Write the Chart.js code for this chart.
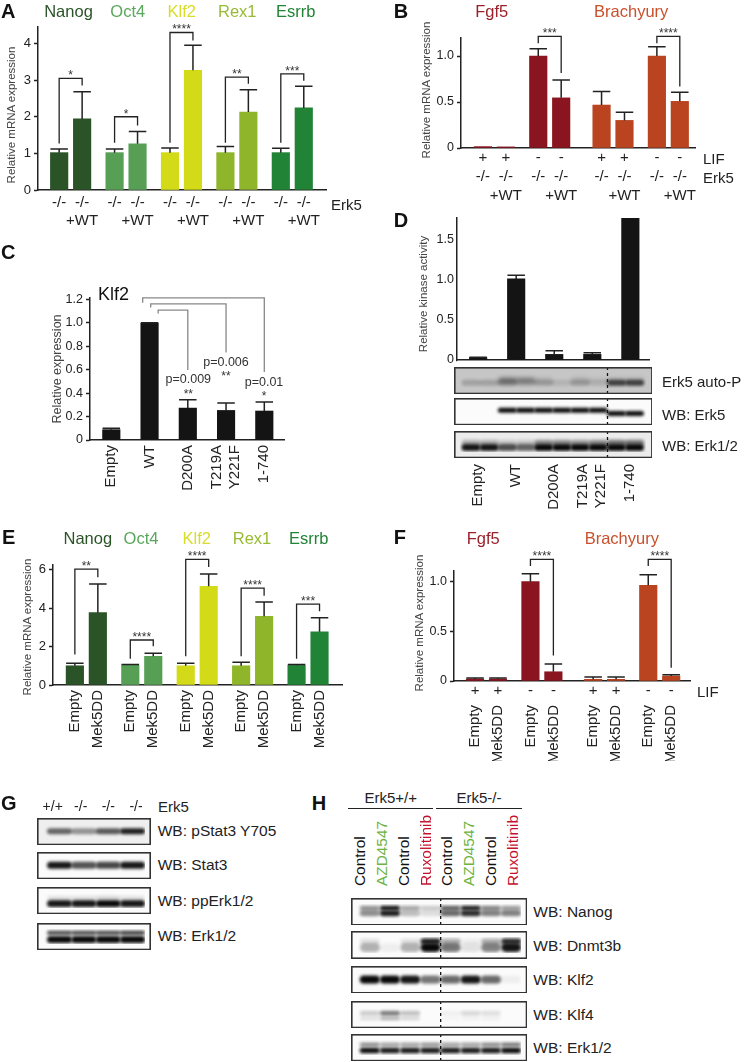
<!DOCTYPE html>
<html>
<head>
<meta charset="utf-8">
<title>Erk5 figure</title>
<script src="https://cdn.jsdelivr.net/npm/chart.js@4"></script>
<style>
  html, body { margin: 0; padding: 0; background: #fff; }
  #page { position: relative; width: 744px; height: 1062px; overflow: hidden; font-family: "Liberation Sans", Arial, sans-serif; color: #222; }
  #page canvas { position: absolute; }
  .txt { position: absolute; white-space: nowrap; line-height: 1; z-index: 5; }
  .rule { position: absolute; background: #222; z-index: 5; }
</style>
</head>
<body>
<div id="page"></div>
<script>
// colours
const nanogGreen = '#2a5427', oct4Green = '#579f55', klf2Yellow = '#d3da17', rex1Green = '#8fb52a', esrrbGreen = '#218336';
const fgfRed = '#8a141f', brachyOrange = '#b9441f';

/* ===== A ===== */
const genesA = ['Nanog', 'Oct4', 'Klf2', 'Rex1', 'Esrrb'];
const ticksA = [0, 1, 2, 3, 4];
const tickLabelsA = ['0', '1', '2', '3', '4'];
const valuesA = [1.02, 1.94, 1.02, 1.26, 1.02, 3.27, 1.02, 2.13, 1.02, 2.24];
const errorsA = [1.12, 2.68, 1.12, 1.60, 1.15, 3.95, 1.19, 2.74, 1.14, 2.83];
const labelsA = [['-/-', ''], ['-/-', '+WT'], ['-/-', ''], ['-/-', '+WT'], ['-/-', ''], ['-/-', '+WT'], ['-/-', ''], ['-/-', '+WT'], ['-/-', ''], ['-/-', '+WT']];
const bracketTopA = [3.05, 2.00, 4.30, 3.08, 3.17];
const bracketLeftA = [1.27, 1.29, 1.29, 1.29, 1.29];
const bracketRightA = [2.85, 1.76, 4.08, 2.90, 2.98];
const starsA = ['*', '*', '****', '**', '***'];

/* ===== B ===== */
const ticksB = [0, 0.5, 1];
const tickLabelsB = ['0', '0.5', '1.0'];
const valuesB = [0.015, 0.012, 1.0, 0.545, 0.467, 0.30, 1.0, 0.507];
const errorsB = [0.015, 0.012, 1.08, 0.74, 0.615, 0.39, 1.10, 0.605];
const labelsB = [['+', '-/-', ''], ['+', '-/-', '+WT'], ['-', '-/-', ''], ['-', '-/-', '+WT'], ['+', '-/-', ''], ['+', '-/-', '+WT'], ['-', '-/-', ''], ['-', '-/-', '+WT']];
const bracketTopB = [1.214, 1.214];
const bracketLeftB = [1.14, 1.14];
const bracketRightB = [0.815, 0.67];
const starsB = ['***', '****'];

/* ===== C ===== */
const ticksC = [0, 0.2, 0.4, 0.6, 0.8, 1.0, 1.2];
const tickLabelsC = ['0', '0.2', '0.4', '0.6', '0.8', '1.0', '1.2'];
const categoriesC = ['Empty', 'WT', 'D200A', 'T219A', 'Y221F', '1-740'];
const valuesC = [0.088, 0.995, 0.272, 0.252, 0.247];
const errorsC = [0.10, 1.0, 0.343, 0.315, 0.323];
const bracketTopC = [1.211, 1.16, 1.106];
const bracketLeftC = [1.169, 1.13, 1.078];
const bracketRightC = [0.58, 0.746, 0.596];

/* ===== D ===== */
const ticksD = [0, 0.5, 1, 1.5];
const tickLabelsD = ['0', '0.5', '1.0', '1.5'];
const valuesD = [0.03, 1.01, 0.07, 0.07, 1.77];
const errorsD = [0.035, 1.055, 0.115, 0.09, 1.77];
const autoPUpper = [0, 0, 0.4, 0.35, 0.1, 0, 0.12, 0.05, 0.1, 0.1];
const autoPLower = [0.2, 0.2, 0.25, 0.15, 0.2, 0.1, 0.2, 0.1, 0.7, 0.7];
const erk5Upper = [0, 0, 1, 1, 1, 1, 1, 1, 0, 0];
const erk5Lower = [0, 0, 0, 0, 0, 0, 0, 0, 1, 1];
const erkUpperD = [0.25, 0.25, 0.15, 0.15, 0.4, 0.4, 0.35, 0.4, 0.5, 0.5];
const erkLowerD = [0.95, 0.95, 0.7, 0.6, 1, 1, 1, 1, 1, 1];

/* ===== E ===== */
const ticksE = [0, 2, 4, 6];
const tickLabelsE = ['0', '2', '4', '6'];
const valuesE = [1.0, 3.76, 1.04, 1.49, 1.0, 5.13, 1.0, 3.57, 1.02, 2.77];
const errorsE = [1.13, 5.25, 1.06, 1.65, 1.13, 5.77, 1.18, 4.32, 1.07, 3.5];
const labelsE = ['Empty', 'Mek5DD', 'Empty', 'Mek5DD', 'Empty', 'Mek5DD', 'Empty', 'Mek5DD', 'Empty', 'Mek5DD'];
const bracketTopE = [6.03, 2.34, 6.53, 5.04, 4.21];
const bracketLeftE = [1.58, 1.37, 1.49, 1.49, 1.37];
const bracketRightE = [5.6, 2.01, 6.13, 4.64, 3.83];
const starsE = ['**', '****', '****', '****', '***'];

/* ===== F ===== */
const ticksF = [0, 0.5, 1];
const tickLabelsF = ['0', '0.5', '1.0'];
const valuesF = [0.02, 0.02, 1.0, 0.093, 0.017, 0.017, 0.963, 0.05];
const errorsF = [0.03, 0.03, 1.08, 0.17, 0.04, 0.04, 1.07, 0.063];
const labelsF = ['Empty', 'Mek5DD', 'Empty', 'Mek5DD', 'Empty', 'Mek5DD', 'Empty', 'Mek5DD'];
const lifF = ['+', '+', '-', '-', '+', '+', '-', '-'];
const bracketTopF = [1.223, 1.223];
const bracketLeftF = [1.157, 1.157];
const bracketRightF = [0.257, 0.133];
const starsF = ['****', '****'];

/* ===== G blots ===== */
const lanesG = ['+/+', '-/-', '-/-', '-/-'];
const pStat3Band = [0.6, 0.4, 0.65, 0.9];
const stat3Band = [0.95, 0.7, 0.75, 0.95];
const ppErkUpper = [0.1, 0.1, 0.15, 0.1];
const ppErkLower = [0.95, 0.95, 1, 0.95];
const erkUpperG = [0.75, 0.75, 0.75, 0.8];
const erkLowerG = [1, 1, 1, 1];

/* ===== H blots ===== */
const lanesH = ['Control', 'AZD4547', 'Control', 'Ruxolitinib', 'Control', 'AZD4547', 'Control', 'Ruxolitinib'];
const nanogUpperH = [0.45, 1, 0.35, 0.2, 0.65, 0.95, 0.5, 0.4];
const nanogLowerH = [0.45, 0.9, 0.25, 0.12, 0.6, 0.85, 0.5, 0.5];
const dnmtUpperH = [0.1, 0, 0.1, 0.9, 0.3, 0.05, 0.3, 0.85];
const dnmtLowerH = [0.3, 0.05, 0.3, 1, 0.55, 0.1, 0.5, 0.95];
const klf2BandH = [1, 1, 0.95, 0.55, 0.6, 0.95, 0.6, 0.05];
const klf4UpperH = [0.2, 0.55, 0.25, 0, 0.05, 0.15, 0.12, 0];
const klf4LowerH = [0.12, 0.3, 0.15, 0, 0.03, 0.05, 0.05, 0];
const erkUpperH = [0.5, 0.4, 0.4, 0.45, 0.4, 0.4, 0.5, 0.6];
const erkLowerH = [1, 0.95, 0.95, 0.95, 0.95, 0.95, 0.95, 1];

Chart.defaults.font.family = '"Liberation Sans", Arial, sans-serif';
Chart.defaults.color = '#222';
Chart.defaults.animation = false;
Chart.defaults.plugins.legend.display = false;
Chart.defaults.plugins.tooltip.enabled = false;

const page = document.getElementById('page');

function text(str, x, y, size, opts) {
    opts = opts || {};
    const el = document.createElement('span');
    el.className = 'txt';
    el.textContent = str;
    el.style.left = x + 'px';
    el.style.top = y + 'px';
    el.style.fontSize = size + 'px';
    el.style.color = opts.color || '#222';
    if (opts.bold) el.style.fontWeight = 'bold';
    if (opts.rotBottom) {
        // vertical text starting at (x, y) and going up
        el.style.transformOrigin = '0 50%';
        el.style.transform = 'translateY(-50%) rotate(-90deg)';
    } else if (opts.rot) {
        el.style.transform = 'translate(-50%,-50%) rotate(-90deg)';
    } else if (opts.left) {
        el.style.transform = 'translateY(-50%)';
    } else {
        el.style.transform = 'translate(-50%,-50%)';
    }
    page.appendChild(el);
}

function rule(x0, x1, y) {
    const el = document.createElement('div');
    el.className = 'rule';
    el.style.left = x0 + 'px';
    el.style.top = y + 'px';
    el.style.width = (x1 - x0) + 'px';
    el.style.height = '1.5px';
    page.appendChild(el);
}

function pairSlots(steps) {
    const out = [];
    let at = 0;
    [0].concat(steps).forEach(s => { at += s; out.push(at, at + 1); });
    return out;
}

function bracketsFrom(pairs, tops, lefts, rights, stars) {
    return pairs.map((p, i) => ({ a: p[0], b: p[1], top: tops[i], left: lefts[i], right: rights[i], stars: stars ? stars[i] : '' }));
}

// error bars, significance brackets and small rows of text under the axis
function marksPlugin(p) {
    return {
        id: 'marks',
        afterDatasetsDraw(chart) {
            const ctx = chart.ctx, xs = chart.scales.x, ys = chart.scales.y;
            const bars = chart.getDatasetMeta(0).data;
            ctx.save();
            ctx.strokeStyle = '#222';
            ctx.lineWidth = 1.5;
            p.errors.forEach((e, i) => {
                if (e <= p.values[i] + 0.0001) return;
                const x = bars[i].x, half = bars[i].width / 2, y0 = ys.getPixelForValue(p.values[i]), y1 = ys.getPixelForValue(e);
                ctx.beginPath();
                ctx.moveTo(x, y0); ctx.lineTo(x, y1);
                ctx.moveTo(x - half, y1); ctx.lineTo(x + half, y1);
                ctx.stroke();
            });
            ctx.strokeStyle = p.bracketColor || '#222';
            ctx.lineWidth = 1.3;
            (p.brackets || []).forEach(b => {
                const xa = xs.getPixelForValue(b.a), xb = xs.getPixelForValue(b.b), top = ys.getPixelForValue(b.top);
                ctx.beginPath();
                ctx.moveTo(xa, ys.getPixelForValue(b.left));
                ctx.lineTo(xa, top);
                ctx.lineTo(xb, top);
                ctx.lineTo(xb, ys.getPixelForValue(b.right));
                ctx.stroke();
                if (b.stars) {
                    ctx.fillStyle = '#333';
                    ctx.font = '12px "Liberation Sans", Arial, sans-serif';
                    ctx.textAlign = 'center';
                    ctx.textBaseline = 'alphabetic';
                    ctx.fillText(b.stars, (xa + xb) / 2, top + 1);
                }
            });
            if (p.row) {
                ctx.fillStyle = '#222';
                ctx.font = '15px "Liberation Sans", Arial, sans-serif';
                ctx.textAlign = 'center';
                ctx.textBaseline = 'middle';
                p.row.labels.forEach((t, i) => ctx.fillText(t, bars[i].x, ys.bottom + p.row.dy));
            }
            ctx.restore();
        }
    };
}

function barPanel(p) {
    const pad = { left: 36, top: 26, right: 30 };
    const canvas = document.createElement('canvas');
    canvas.width = p.right - p.axisX + pad.left + pad.right;
    canvas.height = p.base - p.axisTop + pad.top + p.below;
    canvas.style.left = (p.axisX - pad.left) + 'px';
    canvas.style.top = (p.axisTop - pad.top) + 'px';
    page.appendChild(canvas);
    const tickSlots = p.tickSlots || p.slots;
    return new Chart(canvas, {
        type: 'bar',
        data: {
            datasets: [{
                data: p.slots.map((s, i) => ({ x: s, y: p.values[i] })),
                backgroundColor: p.colors,
                barThickness: 17.5
            }]
        },
        options: {
            responsive: false,
            layout: { padding: { left: 0, top: pad.top, right: pad.right, bottom: 0 } },
            scales: {
                x: {
                    type: 'linear', offset: false, min: p.xMin, max: p.xMax,
                    border: { color: '#222', width: 1.5 },
                    grid: { display: false, drawTicks: false, offset: false },
                    afterBuildTicks: s => { s.ticks = tickSlots.map(v => ({ value: v })); },
                    afterFit: s => {
                        // big tick padding must not squeeze the plot sideways
                        s.height = p.below;
                        s.paddingLeft = 0;
                        s.paddingRight = 0;
                    },
                    ticks: {
                        autoSkip: false, maxRotation: p.rotate ? 90 : 0, minRotation: p.rotate ? 90 : 0,
                        padding: p.tickPad, color: '#222',
                        font: { size: 15, lineHeight: p.lineHeight || 1.2 },
                        callback: (v, i) => p.labels[i]
                    }
                },
                y: {
                    min: 0, max: p.yMax,
                    border: { color: '#222', width: 1.5 },
                    grid: { drawOnChartArea: false, tickLength: p.noTicks ? 0 : 4, tickColor: '#222', tickWidth: 1.5 },
                    afterBuildTicks: s => { s.ticks = p.ticks.map(v => ({ value: v })); },
                    afterFit: s => { s.width = pad.left; },
                    ticks: { padding: 3, color: '#222', font: { size: p.tickSize || 12.5 }, callback: (v, i) => p.tickLabels[i] }
                }
            }
        },
        plugins: [marksPlugin(p)]
    });
}

const spriteCache = {};
function bandSprite(w, thick, blur, amount) {
    const key = [w, thick, blur, amount].join('_');
    if (spriteCache[key]) return spriteCache[key];
    const c = document.createElement('canvas');
    c.width = Math.ceil(w + blur * 6);
    c.height = Math.ceil(thick + blur * 6);
    const g = c.getContext('2d');
    g.filter = 'blur(' + blur + 'px)';
    g.fillStyle = 'rgba(8,8,8,' + amount + ')';
    g.beginPath();
    g.roundRect(blur * 3, blur * 3, w, thick, thick / 2);
    g.fill();
    spriteCache[key] = c;
    return c;
}

// one western blot: lanes on x, position in the strip on y, intensity per lane
function blot(x, y, w, h, o) {
    const canvas = document.createElement('canvas');
    canvas.width = w;
    canvas.height = h;
    canvas.style.left = x + 'px';
    canvas.style.top = y + 'px';
    canvas.style.zIndex = 3;
    page.appendChild(canvas);
    return new Chart(canvas, {
        type: 'scatter',
        data: {
            datasets: o.rows.map(r => ({
                data: r.vals.map((v, i) => ({ x: i, y: r.level })),
                pointRadius: 5,
                pointStyle: ctx => bandSprite(o.bandW, r.thick, r.blur || 1.4, r.vals[ctx.dataIndex])
            }))
        },
        options: {
            responsive: false,
            scales: {
                x: { type: 'linear', display: false, min: o.laneMin, max: o.laneMax },
                y: { type: 'linear', display: false, min: 0, max: 1, reverse: true }
            }
        },
        plugins: [{
            id: 'strip',
            beforeDraw(chart) {
                chart.ctx.fillStyle = o.bg || '#fbfbfb';
                chart.ctx.fillRect(0, 0, w, h);
            },
            afterDraw(chart) {
                const ctx = chart.ctx;
                ctx.save();
                if (o.dashAt !== undefined) {
                    const dx = chart.scales.x.getPixelForValue(o.dashAt);
                    ctx.strokeStyle = '#111';
                    ctx.lineWidth = 1.3;
                    ctx.setLineDash([3, 3]);
                    ctx.beginPath(); ctx.moveTo(dx, 0); ctx.lineTo(dx, h); ctx.stroke();
                    ctx.setLineDash([]);
                }
                ctx.strokeStyle = '#333';
                ctx.lineWidth = 1.6;
                ctx.strokeRect(0.8, 0.8, w - 1.6, h - 1.6);
                ctx.restore();
            }
        }]
    });
}

/* ----- panel A ----- */
const slotsA = pairSlots([2.413, 2.413, 2.413, 2.413]);
const pairsA = [0, 2, 4, 6, 8].map(i => [slotsA[i], slotsA[i + 1]]);
const colorsFive = [nanogGreen, nanogGreen, oct4Green, oct4Green, klf2Yellow, klf2Yellow, rex1Green, rex1Green, esrrbGreen, esrrbGreen];
barPanel({
    axisX: 37.5, right: 326, axisTop: 27, base: 190.7, below: 40, yMax: 4.45, xMin: -0.922, xMax: 11.62,
    slots: slotsA, values: valuesA, errors: errorsA, colors: colorsFive, labels: labelsA,
    ticks: ticksA, tickLabels: tickLabelsA, tickSize: 13, tickPad: 4.5, lineHeight: 1.18,
    brackets: bracketsFrom(pairsA, bracketTopA, bracketLeftA, bracketRightA, starsA)
});
[[68.5, nanogGreen], [127.8, '#5aa65a'], [181.7, '#d8dc2a'], [237.3, '#98bb35'], [295.8, esrrbGreen]].forEach((g, i) => text(genesA[i], g[0], 11, 16.5, { color: g[1] }));
text('Relative mRNA expression', 11.7, 115, 11.5, { rot: true, color: '#444' });
text('Erk5', 331, 204, 15, { left: true });

/* ----- panel B ----- */
const slotsB = pairSlots([2.413, 2.761, 2.413]);
const colorsFour = [fgfRed, fgfRed, fgfRed, fgfRed, brachyOrange, brachyOrange, brachyOrange, brachyOrange];
barPanel({
    axisX: 461.3, right: 696, axisTop: 38.3, base: 148.3, below: 60, yMax: 1.196, xMin: -0.957, xMax: 9.25,
    slots: slotsB, values: valuesB, errors: errorsB, colors: colorsFour, labels: labelsB,
    ticks: ticksB, tickLabels: tickLabelsB, tickPad: 0.5, lineHeight: 1.25,
    brackets: bracketsFrom([[slotsB[2], slotsB[3]], [slotsB[6], slotsB[7]]], bracketTopB, bracketLeftB, bracketRightB, starsB)
});
text('Fgf5', 491.7, 11, 16.5, { color: '#9a2029' });
text('Brachyury', 631.2, 11, 16.5, { color: '#c8502c' });
text('Relative mRNA expression', 427, 90, 11.5, { rot: true, color: '#444' });
text('LIF', 703, 158, 15, { left: true });
text('Erk5', 703, 177, 15, { left: true });

/* ----- panel C ----- */
const slotsC = [0, 1, 2, 3, 4];
const labelSlotsC = [0, 1, 2, 2.765, 3.235, 4];
const blackFive = ['#141414', '#141414', '#141414', '#141414', '#141414'];
barPanel({
    axisX: 90, right: 284, axisTop: 297.7, base: 440, below: 80, yMax: 1.21, xMin: -0.557, xMax: 4.515,
    slots: slotsC, tickSlots: labelSlotsC, values: valuesC, errors: errorsC, colors: blackFive, labels: categoriesC,
    ticks: ticksC, tickLabels: tickLabelsC, rotate: true, tickPad: 5, bracketColor: '#888',
    brackets: bracketsFrom([[0.82, 4], [1.03, 3], [1.225, 2]], bracketTopC, bracketLeftC, bracketRightC)
});
text('Klf2', 113.5, 294, 18, { color: '#111' });
text('Relative expression', 57.3, 369.2, 12.5, { rot: true, color: '#444' });
text('p=0.009', 188.3, 378.7, 12.5, { color: '#333' });
text('**', 188.3, 393.5, 12, { color: '#333' });
text('p=0.006', 226, 362.3, 12.5, { color: '#333' });
text('**', 226, 376, 12, { color: '#333' });
text('p=0.01', 264, 382, 12.5, { color: '#333' });
text('*', 264, 396, 12, { color: '#333' });

/* ----- panel D ----- */
barPanel({
    axisX: 457, right: 649.7, axisTop: 218, base: 360, below: 150, yMax: 1.768, xMin: -0.555, xMax: 4.49,
    slots: slotsC, tickSlots: labelSlotsC, values: valuesD, errors: errorsD, colors: blackFive, labels: categoriesC,
    ticks: ticksD, tickLabels: tickLabelsD, rotate: true, tickPad: 104, noTicks: true
});
text('Relative kinase activity', 424.3, 293.5, 11.5, { rot: true, color: '#444' });
const dLanes = { bandW: 19, laneMin: -0.62, laneMax: 9.62, dashAt: 7.5 };
blot(454, 366.7, 198.7, 27.3, Object.assign({}, dLanes, { bg: '#c6c6c6', rows: [
    { level: 0.49, thick: 6, blur: 2, vals: autoPUpper },
    { level: 0.65, thick: 6, blur: 1.8, vals: autoPLower }
] }));
blot(454, 398.3, 198.7, 27.4, Object.assign({}, dLanes, { rows: [
    { level: 0.43, thick: 5, vals: erk5Upper },
    { level: 0.65, thick: 5, vals: erk5Lower }
] }));
blot(454, 430.7, 198.7, 27.3, Object.assign({}, dLanes, { bg: '#ececec', rows: [
    { level: 0.38, thick: 6, blur: 1.8, vals: erkUpperD },
    { level: 0.71, thick: 7, vals: erkLowerD }
] }));
text('Erk5 auto-P', 662, 380.7, 15, { left: true });
text('WB: Erk5', 662, 414.3, 15, { left: true });
text('WB: Erk1/2', 662, 444.7, 15, { left: true });

/* ----- panel E ----- */
const slotsE = pairSlots([2.413, 2.413, 2.413, 2.413]);
const pairsE = [0, 2, 4, 6, 8].map(i => [slotsE[i], slotsE[i + 1]]);
barPanel({
    axisX: 53.3, right: 342.7, axisTop: 565.3, base: 685.3, below: 70, yMax: 6.24, xMin: -0.952, xMax: 11.63,
    slots: slotsE, values: valuesE, errors: errorsE, colors: colorsFive, labels: labelsE,
    ticks: ticksE, tickLabels: tickLabelsE, rotate: true, tickPad: 5, tickSize: 13,
    brackets: bracketsFrom(pairsE, bracketTopE, bracketLeftE, bracketRightE, starsE)
});
[[87.8, nanogGreen], [141, '#5aa65a'], [196.7, '#d8dc2a'], [252, '#98bb35'], [308.7, esrrbGreen]].forEach((g, i) => text(genesA[i], g[0], 537.7, 16.5, { color: g[1] }));
text('Relative mRNA expression', 28.3, 626.7, 11.5, { rot: true, color: '#444' });

/* ----- panel F ----- */
const slotsF = pairSlots([2.415, 2.733, 2.402]);
barPanel({
    axisX: 453.7, right: 690.3, axisTop: 571, base: 681.7, below: 80, yMax: 1.107, xMin: -0.917, xMax: 9.37,
    slots: slotsF, values: valuesF, errors: errorsF, colors: colorsFour, labels: labelsF,
    ticks: ticksF, tickLabels: tickLabelsF, rotate: true, tickPad: 24,
    row: { labels: lifF, dy: 9.5 },
    brackets: bracketsFrom([[slotsF[2], slotsF[3]], [slotsF[6], slotsF[7]]], bracketTopF, bracketLeftF, bracketRightF, starsF)
});
text('Fgf5', 483.3, 537.7, 16.5, { color: '#9a2029' });
text('Brachyury', 621.8, 537.7, 16.5, { color: '#c8502c' });
text('Relative mRNA expression', 420.3, 622.5, 11.5, { rot: true, color: '#444' });
text('LIF', 697, 691, 15, { left: true });

/* ----- panel G ----- */
[52.7, 80.7, 108.3, 136].forEach((x, i) => text(lanesG[i], x, 806, 14));
text('Erk5', 158, 806, 15, { left: true });
const gLanes = { bandW: 25, laneMin: -0.69, laneMax: 3.5 };
blot(37, 817.7, 114, 27.3, Object.assign({}, gLanes, { bg: '#efefef', rows: [{ level: 0.5, thick: 6, vals: pStat3Band }] }));
blot(37, 851.7, 114, 27.3, Object.assign({}, gLanes, { rows: [{ level: 0.5, thick: 7, vals: stat3Band }] }));
blot(37, 887, 114, 27.3, Object.assign({}, gLanes, { rows: [
    { level: 0.3, thick: 3.5, vals: ppErkUpper },
    { level: 0.72, thick: 7, vals: ppErkLower }
] }));
blot(37, 922.7, 114, 27.3, Object.assign({}, gLanes, { rows: [
    { level: 0.27, thick: 4, vals: erkUpperG },
    { level: 0.72, thick: 7, vals: erkLowerG }
] }));
text('WB: pStat3 Y705', 157.7, 831, 15.5, { left: true });
text('WB: Stat3', 157.7, 865, 15.5, { left: true });
text('WB: ppErk1/2', 157.7, 901, 15.5, { left: true });
text('WB: Erk1/2', 157.7, 936, 15.5, { left: true });

/* ----- panel H ----- */
text('Erk5+/+', 390.7, 797, 15);
text('Erk5-/-', 479, 797, 15);
rule(348, 433, 807.8);
rule(436, 521.7, 807.8);
const laneColours = { Control: '#111', AZD4547: '#6db33f', Ruxolitinib: '#c4122e' };
[360, 381.7, 404, 426, 447.3, 469.3, 491, 513.3].forEach((x, i) => text(lanesH[i], x, 886, 15.4, { rotBottom: true, color: laneColours[lanesH[i]] }));
const hLanes = { bandW: 20, laneMin: -0.645, laneMax: 7.48, dashAt: 3.5 };
blot(351, 897.7, 176.3, 27.6, Object.assign({}, hLanes, { rows: [
    { level: 0.27, thick: 4.5, vals: nanogUpperH },
    { level: 0.63, thick: 6, vals: nanogLowerH }
] }));
blot(351, 931.3, 176.3, 28, Object.assign({}, hLanes, { rows: [
    { level: 0.27, thick: 6, blur: 1.8, vals: dnmtUpperH },
    { level: 0.66, thick: 9, blur: 1.8, vals: dnmtLowerH }
] }));
blot(351, 965.7, 176.3, 27.6, Object.assign({}, hLanes, { rows: [{ level: 0.52, thick: 8, vals: klf2BandH }] }));
blot(351, 1001, 176.3, 27.3, Object.assign({}, hLanes, { rows: [
    { level: 0.41, thick: 4.5, vals: klf4UpperH },
    { level: 0.76, thick: 3.5, vals: klf4LowerH }
] }));
blot(351, 1034.3, 176.3, 27.4, Object.assign({}, hLanes, { rows: [
    { level: 0.3, thick: 3.5, vals: erkUpperH },
    { level: 0.7, thick: 5.5, vals: erkLowerH }
] }));
text('WB: Nanog', 533.3, 911.5, 15.5, { left: true });
text('WB: Dnmt3b', 533.3, 945.5, 15.5, { left: true });
text('WB: Klf2', 533.3, 979.5, 15.5, { left: true });
text('WB: Klf4', 533.3, 1014.5, 15.5, { left: true });
text('WB: Erk1/2', 533.3, 1048, 15.5, { left: true });

/* ----- panel letters ----- */
[['A', 1, 11], ['B', 393.7, 10.7], ['C', 1, 251.7], ['D', 393.7, 220], ['E', 2, 536.7], ['F', 393.7, 536.7], ['G', 1, 803], ['H', 311.7, 803]].forEach(l => text(l[0], l[1], l[2], 20, { bold: true, left: true, color: '#111' }));
</script>
</body>
</html>
